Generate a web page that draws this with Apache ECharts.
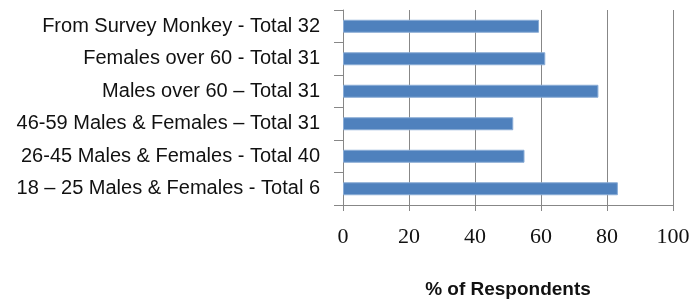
<!DOCTYPE html>
<html>
<head>
<meta charset="utf-8">
<script src="https://cdn.jsdelivr.net/npm/echarts@6/dist/echarts.min.js"></script>
<style>
  html, body { margin: 0; padding: 0; background: #fff; }
  #chart { width: 694px; height: 300px; }
</style>
</head>
<body>
<div id="chart"></div>
<script>
// bottom to top, as the category axis draws them
var categories = [
    '18 \u2013 25 Males & Females - Total 6',
    '26-45 Males & Females - Total 40',
    '46-59 Males & Females \u2013 Total 31',
    'Males over 60 \u2013 Total 31',
    'Females over 60 - Total 31',
    'From Survey Monkey - Total 32'
]
var percents = [83.3, 55.0, 51.6, 77.4, 61.3, 59.4]
var xTicks = [0, 20, 40, 60, 80, 100]

var axisGrey = '#878787'

var option = {
    animation: false,
    grid: { left: 343, right: 21, top: 10, bottom: 95, outerBoundsMode: 'none' },
    xAxis: {
        type: 'value',
        min: xTicks[0],
        max: xTicks[xTicks.length - 1],
        interval: 20,
        name: '% of Respondents',
        nameLocation: 'middle',
        nameGap: 75,
        nameTextStyle: { fontFamily: 'Liberation Sans', fontWeight: 'bold', fontSize: 19, color: '#111' },
        axisLine: { show: true, lineStyle: { color: axisGrey } },
        axisTick: { show: true, length: 6, lineStyle: { color: axisGrey } },
        axisLabel: { margin: 21, fontFamily: 'Liberation Serif', fontSize: 22, color: '#111' },
        splitLine: { show: true, lineStyle: { color: axisGrey, width: 1 } }
    },
    yAxis: {
        type: 'category',
        data: categories,
        axisLine: { show: true, lineStyle: { color: axisGrey } },
        axisTick: { show: true, length: 9, lineStyle: { color: axisGrey } },
        axisLabel: { margin: 23, fontFamily: 'Liberation Sans', fontSize: 20, color: '#111' }
    },
    series: [{
        type: 'bar',
        data: percents,
        barWidth: 13,
        itemStyle: { color: '#4F81BD', borderColor: '#8AACD6', borderWidth: 1 }
    }]
}

var chart = echarts.init(document.getElementById('chart'))
chart.setOption(option)
</script>
</body>
</html>
